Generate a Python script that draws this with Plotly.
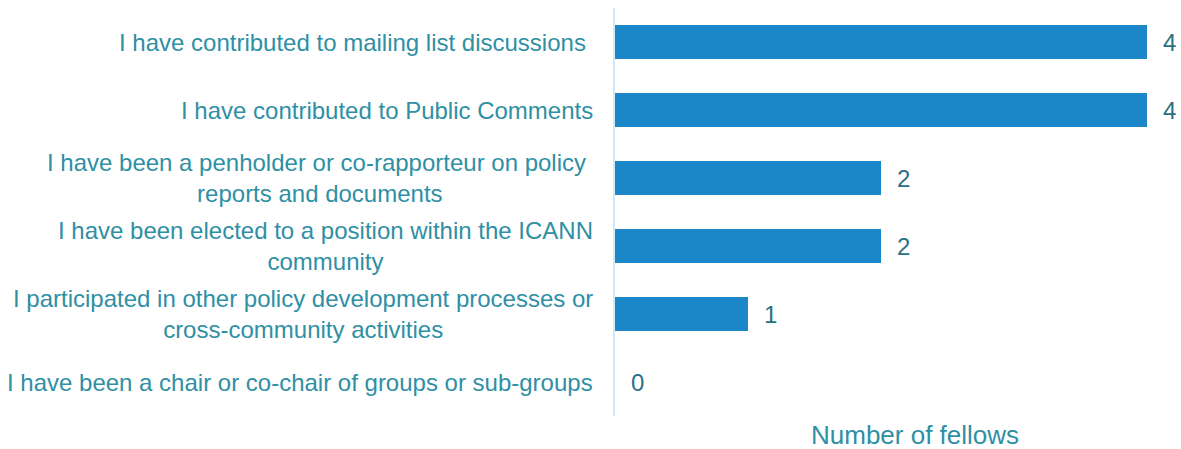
import plotly.graph_objects as go

categories = [
    "I have contributed to mailing list discussions ",
    "I have contributed to Public Comments",
    "I have been a penholder or co-rapporteur on policy <br>reports and documents",
    "I have been elected to a position within the ICANN<br>community",
    "I participated in other policy development processes or<br>cross-community activities",
    "I have been a chair or co-chair of groups or sub-groups",
]
values = [4, 4, 2, 2, 1, 0]
axis_title = "Number of fellows"

W, H = 1181, 449
L, R, T, B = 615, 0, 8, 33
px_per_unit = 133.0
xmax = (W - L - R) / px_per_unit

bar_color = "#1b87c8"
label_color = "#2f8fa4"
value_color = "#2a7084"
font_family = "Liberation Sans, Arial, sans-serif"

fig = go.Figure()
fig.add_trace(go.Bar(
    x=values, y=categories, orientation="h",
    marker=dict(color=bar_color, line=dict(width=0)),
    width=0.5, hoverinfo="skip",
))

annotations = []
for c, v in zip(categories, values):
    annotations.append(dict(
        x=0, xref="paper", y=c, yref="y", text=c, showarrow=False,
        xanchor="right", yanchor="middle", xshift=-20, align="center",
        font=dict(size=24, color=label_color, family=font_family),
    ))
    annotations.append(dict(
        x=v, xref="x", y=c, yref="y", text=str(v), showarrow=False,
        xanchor="left", yanchor="middle", xshift=14,
        font=dict(size=24, color=value_color, family=font_family),
    ))
annotations.append(dict(
    x=(915 - L) / (W - L - R), xref="paper", y=0, yref="paper",
    yanchor="middle", yshift=-19, text=axis_title, showarrow=False,
    font=dict(size=26, color=label_color, family=font_family),
))

fig.update_layout(
    width=W, height=H,
    margin=dict(l=L, r=R, t=T, b=B),
    paper_bgcolor="white", plot_bgcolor="white",
    showlegend=False,
    annotations=annotations,
    font=dict(family=font_family),
    xaxis=dict(range=[0, xmax], showgrid=False, zeroline=False,
               showticklabels=False, showline=False, ticks=""),
    yaxis=dict(categoryorder="array", categoryarray=categories,
               autorange="reversed", showgrid=False, zeroline=False,
               showticklabels=False, showline=True, linecolor="#d3e9f1",
               linewidth=2, ticks=""),
)

fig.write_html(
    "out.html",
    config={"displayModeBar": False},
    post_script="document.body.style.margin='0';document.body.style.overflow='hidden';",
)
